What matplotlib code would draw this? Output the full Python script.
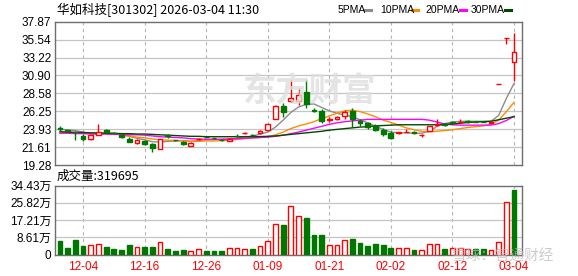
import matplotlib
matplotlib.use("Agg")
import matplotlib.pyplot as plt
from matplotlib.lines import Line2D

plt.rcParams["font.family"] = ["Liberation Sans", "Noto Sans CJK SC", "DejaVu Sans"]

TITLE = "华如科技[301302] 2026-03-04 11:30"
VOL_LABEL = "成交量:319695"

# daily candles, 60 trading days (2025-12-01 .. 2026-03-04)
opens = [24.06, 23.78, 23.60, 23.05, 22.62, 23.21, 23.82, 23.45, 23.20, 22.62,
         22.10, 22.36, 21.97, 21.36, 23.12, 22.52, 22.30, 21.79, 22.60, 22.90,
         22.78, 22.55, 22.40, 23.10, 23.38, 23.20, 23.40, 23.82, 25.25, 26.94,
         27.58, 27.58, 28.79, 26.40, 26.33, 25.18, 25.21, 25.64, 26.33, 25.03,
         24.69, 24.34, 23.83, 23.47, 23.45, 23.58, 23.50, 23.15, 23.70, 24.50,
         24.60, 24.80, 24.88, 24.95, 24.92, 24.92, 24.78, 29.76, 35.71, 32.68]
highs = [24.40, 23.80, 23.70, 23.30, 23.20, 24.60, 23.95, 23.50, 23.35, 22.85,
         22.70, 22.50, 22.17, 22.65, 23.35, 22.55, 22.35, 22.20, 22.75, 22.95,
         22.80, 22.65, 22.75, 23.25, 23.60, 23.30, 23.85, 24.65, 27.00, 27.30,
         30.31, 29.23, 30.50, 26.64, 26.55, 25.50, 25.60, 26.40, 26.64, 25.30,
         24.90, 24.60, 24.10, 23.70, 23.55, 23.90, 23.70, 23.25, 24.40, 25.20,
         24.75, 25.00, 25.30, 25.15, 25.05, 25.00, 24.95, 29.76, 35.71, 36.44]
lows = [23.70, 23.70, 22.50, 22.45, 22.50, 23.20, 23.50, 23.30, 22.75, 22.20,
        21.95, 21.90, 20.94, 21.30, 22.80, 22.45, 21.90, 21.75, 22.50, 22.85,
        22.70, 22.35, 22.35, 22.90, 23.25, 23.05, 23.35, 23.80, 25.20, 25.55,
        27.50, 27.07, 26.64, 26.10, 24.69, 24.80, 25.15, 25.20, 24.25, 24.30,
        24.00, 23.65, 23.10, 22.70, 23.25, 23.55, 23.35, 22.90, 23.65, 24.30,
        24.40, 24.60, 24.75, 24.75, 24.80, 24.80, 24.70, 29.76, 35.00, 30.18]
closes = [24.00, 23.72, 23.50, 22.70, 23.17, 23.56, 23.60, 23.38, 22.85, 22.31,
          22.50, 21.97, 21.53, 22.62, 23.05, 22.48, 21.97, 22.17, 22.64, 22.86,
          22.74, 22.50, 22.70, 23.04, 23.42, 23.15, 23.73, 24.60, 26.94, 26.20,
          27.93, 28.36, 27.25, 26.33, 25.03, 25.22, 25.55, 26.20, 25.21, 24.77,
          24.17, 23.83, 23.27, 22.83, 23.50, 23.62, 23.45, 23.20, 24.34, 24.58,
          24.52, 24.74, 24.92, 24.88, 24.87, 24.86, 24.80, 29.76, 35.71, 33.90]

ma5 = [23.90, 23.85, 23.75, 23.55, 23.35, 23.30, 23.35, 23.35, 23.20, 23.00,
       22.75, 22.55, 22.30, 22.25, 22.35, 22.40, 22.45, 22.35, 22.45, 22.55,
       22.60, 22.60, 22.65, 22.75, 22.95, 23.00, 23.30, 23.55, 24.20, 25.10,
       26.10, 26.80, 27.15, 27.20, 26.75, 26.30, 26.00, 25.75, 25.55, 25.15,
       24.75, 24.30, 23.90, 23.55, 23.45, 23.45, 23.40, 23.40, 23.65, 24.30,
       24.65, 24.85, 24.95, 24.95, 24.95, 24.95, 24.95, 25.70, 27.90, 29.85]
ma10 = [23.50, 23.50, 23.50, 23.45, 23.40, 23.40, 23.35, 23.30, 23.20, 23.05,
        22.90, 22.80, 22.65, 22.55, 22.50, 22.45, 22.40, 22.35, 22.35, 22.40,
        22.40, 22.45, 22.50, 22.60, 22.70, 22.80, 22.85, 22.95, 23.20, 23.55,
        24.00, 24.35, 24.60, 24.90, 25.30, 25.65, 26.00, 26.30, 26.40, 26.20,
        25.90, 25.55, 25.10, 24.80, 24.45, 24.10, 23.85, 23.65, 23.60, 23.65,
        23.75, 23.85, 24.00, 24.15, 24.25, 24.35, 24.55, 25.10, 26.20, 27.40]
ma20 = [23.40, 23.40, 23.35, 23.35, 23.30, 23.30, 23.30, 23.25, 23.25, 23.20,
        23.20, 23.15, 23.05, 22.95, 22.90, 22.85, 22.80, 22.70, 22.65, 22.62,
        22.62, 22.62, 22.65, 22.70, 22.75, 22.80, 22.85, 22.90, 23.00, 23.15,
        23.35, 23.55, 23.80, 24.05, 24.30, 24.55, 24.75, 24.90, 25.00, 25.10,
        25.20, 25.20, 25.20, 25.20, 25.20, 25.20, 25.20, 25.20, 25.10, 24.85,
        24.60, 24.50, 24.45, 24.45, 24.45, 24.45, 24.45, 24.65, 25.05, 25.60]
ma30 = [23.60, 23.55, 23.50, 23.50, 23.45, 23.45, 23.40, 23.40, 23.35, 23.35,
        23.30, 23.30, 23.25, 23.20, 23.15, 23.10, 23.05, 23.00, 23.00, 22.95,
        22.95, 22.95, 22.95, 22.95, 22.95, 22.95, 22.97, 23.00, 23.05, 23.15,
        23.25, 23.35, 23.45, 23.55, 23.65, 23.80, 23.90, 24.00, 24.10, 24.20,
        24.25, 24.35, 24.40, 24.45, 24.50, 24.50, 24.50, 24.50, 24.50, 24.50,
        24.55, 24.60, 24.70, 24.80, 24.85, 24.90, 24.95, 25.15, 25.35, 25.55]

# volume in 万 shares, colour by change vs previous close (r = up, g = down)
volume = [6.5, 3.3, 7.3, 4.3, 4.6, 5.1, 3.8, 2.8, 2.3, 4.8,
          3.6, 3.6, 3.6, 6.1, 2.6, 1.8, 2.3, 1.6, 2.9, 1.8,
          1.8, 1.8, 3.1, 3.1, 2.8, 2.8, 4.1, 6.6, 15.3, 14.8,
          24.4, 19.3, 18.3, 9.8, 9.8, 4.6, 4.6, 7.1, 7.8, 5.8,
          4.3, 5.3, 4.8, 3.3, 3.1, 3.1, 2.3, 2.1, 5.1, 5.1,
          2.8, 3.1, 3.1, 2.6, 2.6, 2.8, 2.1, 6.1, 26.1, 31.97]
vol_dir = "ggggrrggggrggrgggrrgggrrrgrrrgrrgggrrrggggggrrgrrrgrrrggrrrg"

price_ticks = [19.28, 21.61, 23.93, 26.25, 28.58, 30.90, 33.22, 35.54, 37.87]
vol_ticks = [0, 8.61, 17.21, 25.82, 34.43]
vol_tick_labels = ["0", "8.61万", "17.21万", "25.82万", "34.43万"]
date_pos = [3, 11, 19, 27, 35, 43, 51, 59]
date_labels = ["12-04", "12-16", "12-26", "01-09", "01-21", "02-02", "02-12", "03-04"]

RED = "#ff0000"
GREEN = "#007800"
MA_COLORS = ["#8c8c8c", "#ff8c00", "#ff00ff", "#004a00"]
MA_NAMES = ["5PMA", "10PMA", "20PMA", "30PMA"]

W, H = 578, 276
fig = plt.figure(figsize=(W / 100, H / 100), dpi=100)


def box(l, t, r, b):
    return [l / W, 1 - b / H, (r - l) / W, (b - t) / H]


ax = fig.add_axes(box(55, 21.7, 522, 165))
axv = fig.add_axes(box(55, 185.5, 522, 254.5))

xs = list(range(len(closes)))
xlim = (-0.65, 60.04)
bw = 0.62

for a in (ax, axv):
    a.set_xlim(*xlim)
    for s in a.spines.values():
        s.set_color("#6e6e6e")
        s.set_linewidth(1.0)
    a.tick_params(axis="both", length=0, labelsize=8.5, pad=2.5)
    for p in date_pos:
        a.axvline(p, color="#b4b4b4", lw=0.8, ls=(0, (3, 3)), zorder=0)

ax.set_ylim(price_ticks[0], price_ticks[-1])
ax.set_yticks(price_ticks)
ax.set_yticklabels(["%.2f" % v for v in price_ticks])
ax.set_xticks([])
for v in price_ticks[1:-1]:
    ax.axhline(v, color="#c4c4c4", lw=0.9, zorder=0)

# moving averages
for vals, c in zip([ma5, ma10, ma20, ma30], MA_COLORS):
    ax.plot(xs, vals, color=c, lw=1.0, zorder=2)

# candles
for i in xs:
    o, h, l, c = opens[i], highs[i], lows[i], closes[i]
    up = c >= o
    col = RED if up else GREEN
    ax.vlines(i, l, h, color=col, lw=1.0, zorder=3)
    lo, hi = min(o, c), max(o, c)
    ht = max(hi - lo, 0.02)
    ax.bar(i, ht, bottom=lo, width=bw, color="white" if up else GREEN,
           edgecolor=col, linewidth=1.0, zorder=4)

# volume
axv.set_ylim(0, 34.43)
axv.set_yticks(vol_ticks)
axv.set_yticklabels(vol_tick_labels, family=["Liberation Sans", "Noto Sans CJK SC"])
for v in vol_ticks[1:-1]:
    axv.axhline(v, color="#c4c4c4", lw=0.9, zorder=0)
for i in xs:
    if vol_dir[i] == "r":
        axv.bar(i, volume[i], width=bw, color="white", edgecolor=RED, lw=1.0, zorder=3)
    else:
        axv.bar(i, volume[i], width=bw, color=GREEN, edgecolor=GREEN, lw=1.0, zorder=3)
axv.set_xticks(date_pos)
axv.set_xticklabels(date_labels, color=RED)
axv.tick_params(axis="x", pad=5)

# header texts
fig.text(57 / W, 1 - 10 / H, TITLE, fontsize=9, va="center", ha="left",
         family=["Noto Sans CJK SC"])
x0 = 338
for name, c, tx, dx in zip(MA_NAMES, MA_COLORS, [338, 380, 425, 471], [365, 412, 460, 505]):
    fig.text(tx / W, 1 - 10 / H, name, fontsize=7.5, va="center", ha="left")
    fig.add_artist(Line2D([dx / W, (dx + 6) / W], [1 - 10 / H, 1 - 10 / H],
                          color=c, lw=2.2, transform=fig.transFigure))
fig.text(57 / W, 1 - 176 / H, VOL_LABEL, fontsize=9, va="center", ha="left",
         family=["Noto Sans CJK SC"])

# watermarks
fig.text(309 / W, 1 - 92 / H, "东方财富", fontsize=24, color="#dedede", alpha=0.8,
         ha="center", va="center", family=["Noto Sans CJK SC"], weight="bold", zorder=0)
fig.text(503 / W, 1 - 257 / H, "雪球：智通财经", fontsize=10.5, color="#b8b8b8", alpha=0.7,
         ha="center", va="center", family=["Noto Sans CJK SC"])

fig.savefig("out.png", dpi=100)
